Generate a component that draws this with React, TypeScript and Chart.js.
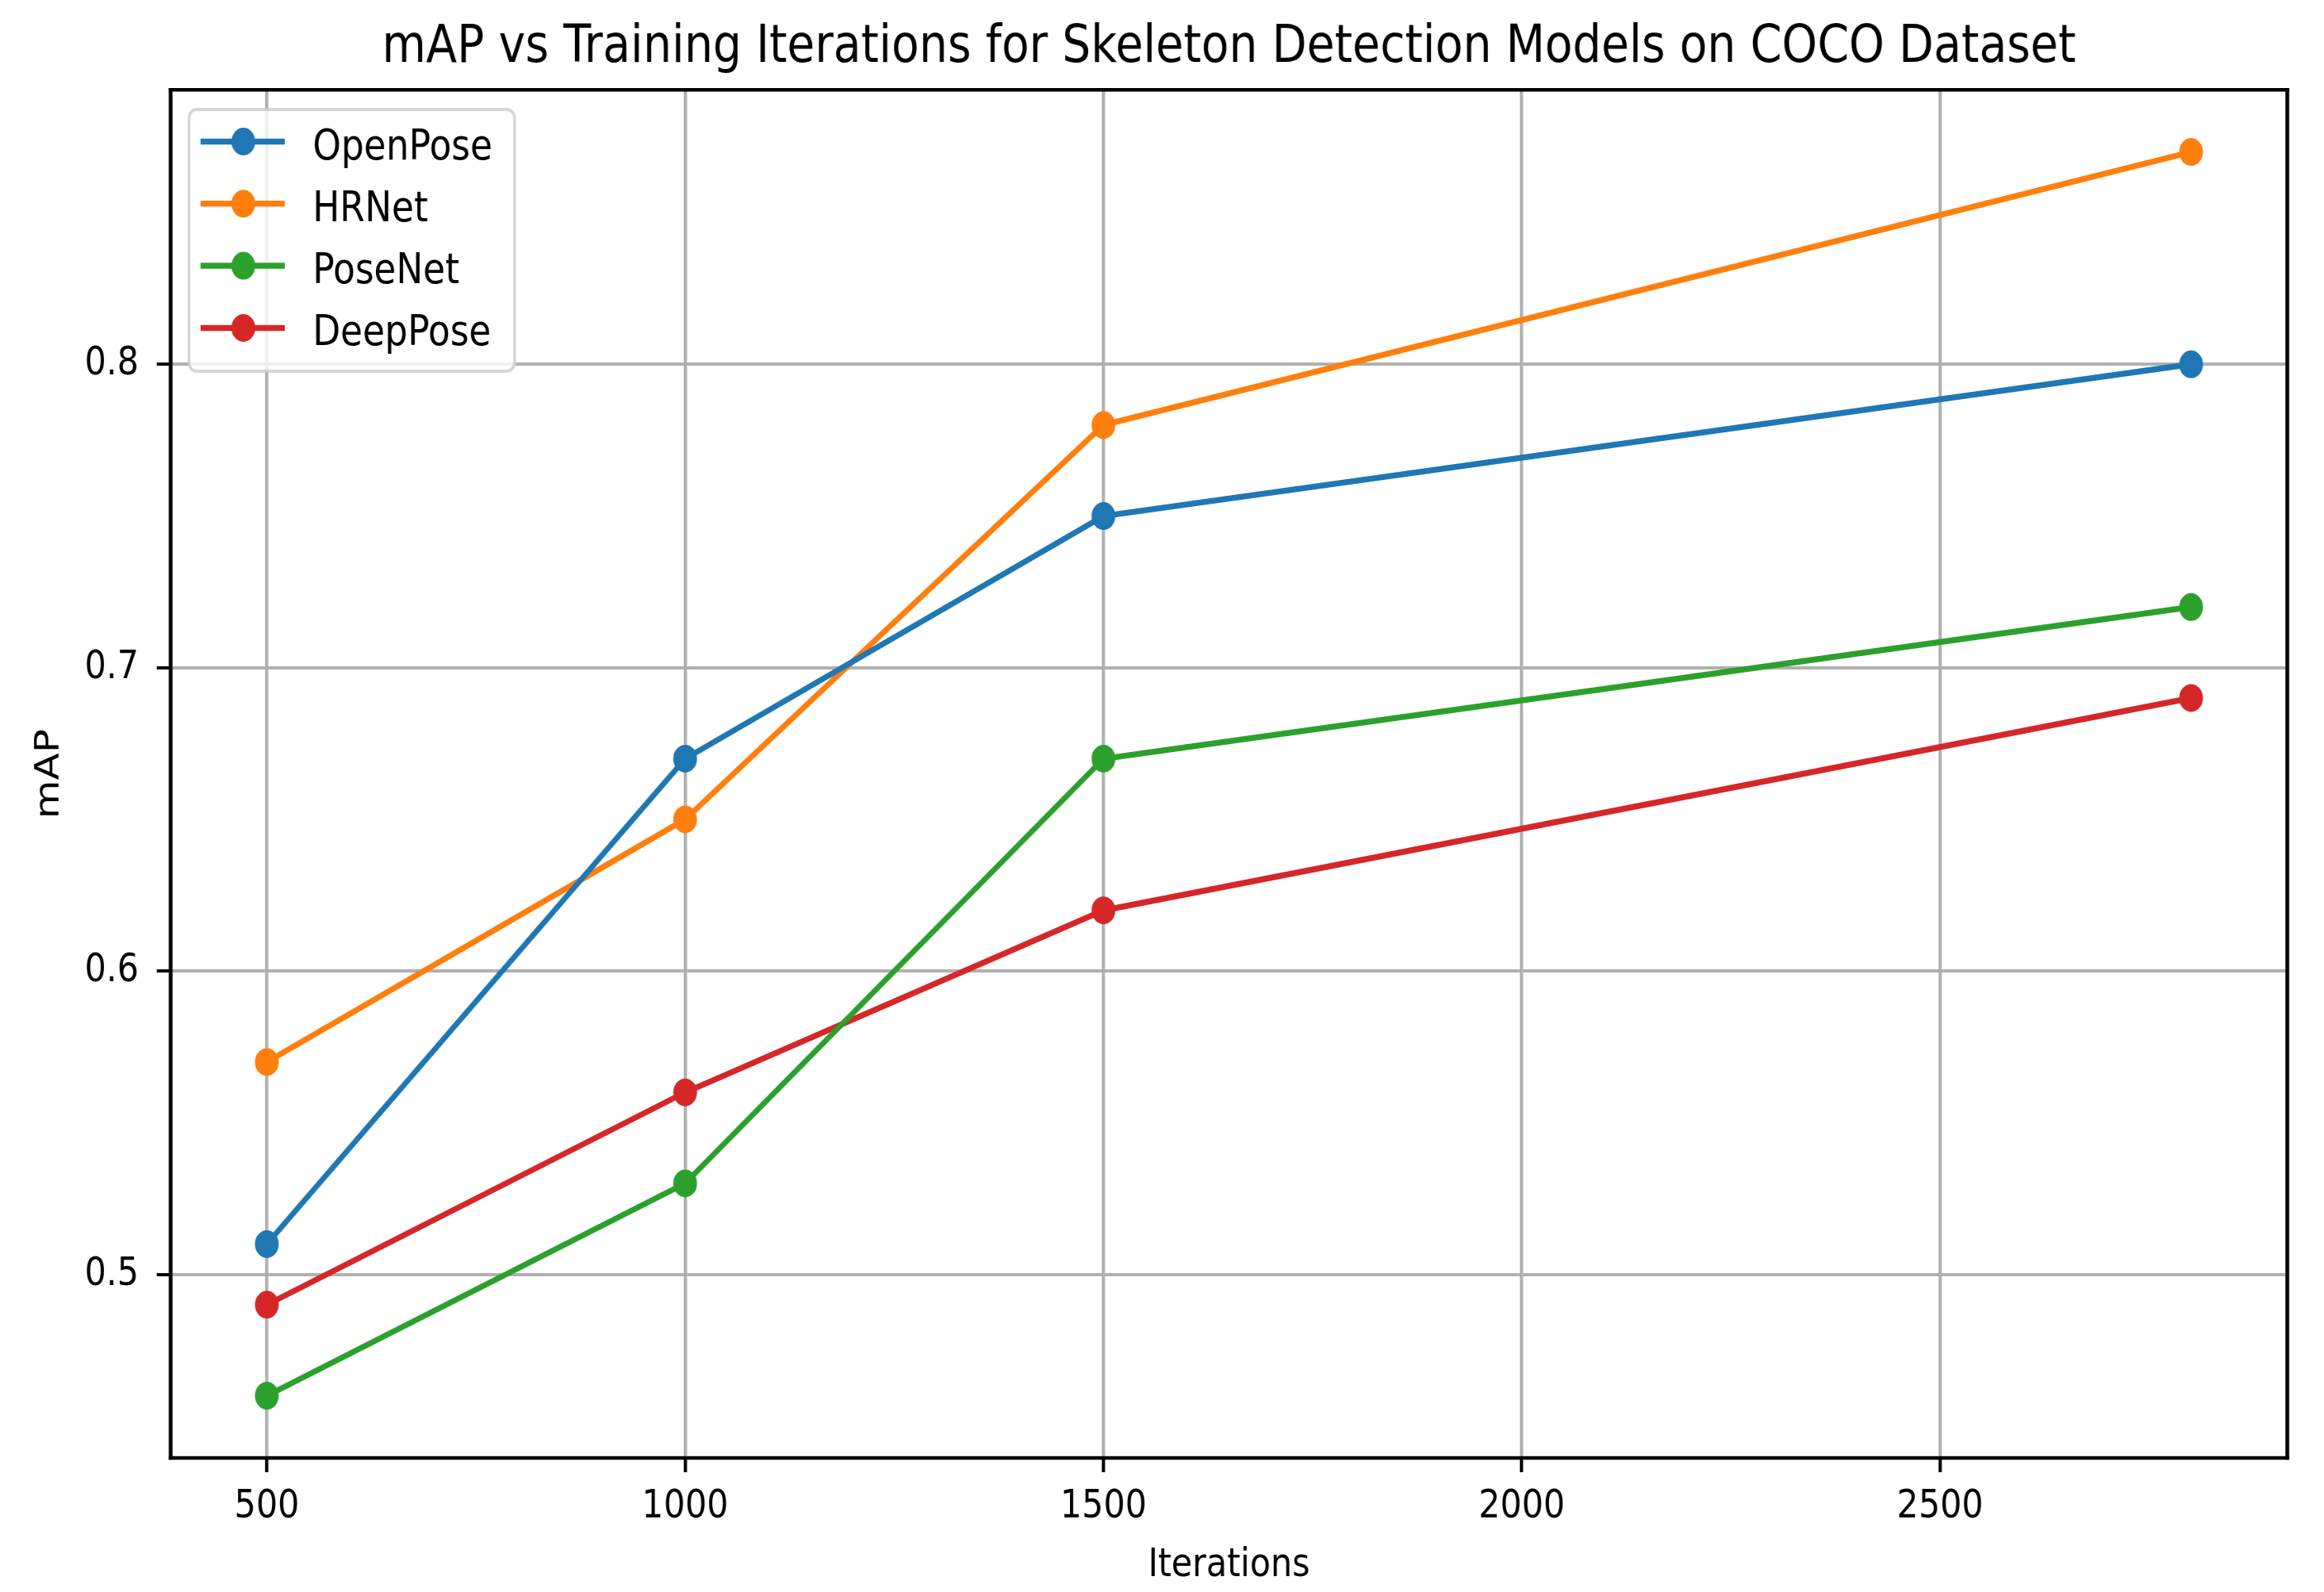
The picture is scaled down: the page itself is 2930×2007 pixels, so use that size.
import React, { useEffect, useRef } from 'react';
import { Chart, registerables } from 'chart.js';

Chart.register(...registerables);

// ---------- data ----------
const iterations = [500, 1000, 1500, 2800];
const seriesNames = ['OpenPose', 'HRNet', 'PoseNet', 'DeepPose'];
const openPose = [0.51, 0.67, 0.75, 0.8];
const hrNet = [0.57, 0.65, 0.78, 0.87];
const poseNet = [0.46, 0.53, 0.67, 0.72];
const deepPose = [0.49, 0.56, 0.62, 0.69];
const xTicks = [500, 1000, 1500, 2000, 2500];
const yTicks = [0.5, 0.6, 0.7, 0.8];
const chartTitle = 'mAP vs Training Iterations for Skeleton Detection Models on COCO Dataset';
const xTitle = 'Iterations';
const yTitle = 'mAP';

// ---------- style ----------
const colors = ['#1f77b4', '#ff7f0e', '#2ca02c', '#d62728'];
const FONT = "'DejaVu Sans', 'Liberation Sans', sans-serif";
const K = 0.857; // horizontal squeeze of the reference picture
const H = 2007;
const W = Math.round(2930 / K);

const frame = {
  id: 'mplFrame',
  afterDatasetsDraw(chart: any) {
    const { ctx } = chart;
    const { left, top, right, bottom } = chart.chartArea;
    ctx.save();
    ctx.strokeStyle = '#000';
    ctx.lineWidth = 4.5;
    ctx.beginPath();
    ctx.moveTo(left - 2.8, top);
    ctx.lineTo(right + 2.8, top);
    ctx.moveTo(left - 2.8, bottom);
    ctx.lineTo(right + 2.8, bottom);
    ctx.stroke();
    ctx.lineWidth = 5.5;
    ctx.beginPath();
    ctx.moveTo(left, top - 2.2);
    ctx.lineTo(left, bottom + 2.2);
    ctx.moveTo(right, top - 2.2);
    ctx.lineTo(right, bottom + 2.2);
    ctx.stroke();
    ctx.restore();
  },
};

const legend = {
  id: 'mplLegend',
  afterDraw(chart: any) {
    const { ctx } = chart;
    const x0 = 278, y0 = 138, x1 = 757, y1 = 468;
    ctx.save();
    ctx.beginPath();
    (ctx as any).roundRect(x0, y0, x1 - x0, y1 - y0, 11);
    ctx.fillStyle = 'rgba(255,255,255,0.8)';
    ctx.fill();
    ctx.strokeStyle = 'rgba(204,204,204,0.8)';
    ctx.lineWidth = 4;
    ctx.stroke();
    chart.data.datasets.forEach((ds: any, i: number) => {
      const cy = 178.5 + i * 78.3;
      ctx.strokeStyle = ds.borderColor;
      ctx.lineWidth = 7.5;
      ctx.beginPath();
      ctx.moveTo(295, cy);
      ctx.lineTo(419, cy);
      ctx.stroke();
      ctx.beginPath();
      ctx.arc(358, cy, 15, 0, Math.PI * 2);
      ctx.fillStyle = ds.backgroundColor;
      ctx.fill();
      ctx.lineWidth = 5;
      ctx.stroke();
      ctx.fillStyle = '#000';
      ctx.font = `53px ${FONT}`;
      ctx.textAlign = 'left';
      ctx.textBaseline = 'alphabetic';
      ctx.fillText(ds.label, 460, cy + 22);
    });
    ctx.restore();
  },
};

export default function App() {
  const ref = useRef<HTMLCanvasElement | null>(null);

  useEffect(() => {
    if (!ref.current) return;
    const series = [openPose, hrNet, poseNet, deepPose];
    const chart = new Chart(ref.current, {
      type: 'line',
      data: {
        datasets: series.map((vals, i) => ({
          label: seriesNames[i],
          data: iterations.map((x, j) => ({ x, y: vals[j] })),
          borderColor: colors[i],
          backgroundColor: colors[i],
          pointBackgroundColor: colors[i],
          pointBorderColor: colors[i],
          borderWidth: 7.5,
          pointRadius: 15,
          pointBorderWidth: 5,
          tension: 0,
          fill: false,
        })),
      },
      options: {
        animation: false,
        responsive: false,
        devicePixelRatio: 1,
        events: [],
        layout: { padding: { top: 0, left: 0, right: W - 3365, bottom: 0 } },
        plugins: {
          legend: { display: false },
          tooltip: { enabled: false },
          title: {
            display: true,
            text: chartTitle,
            fullSize: false,
            color: '#000',
            font: { family: FONT, size: 66.5, weight: 'normal', lineHeight: 1.2 },
            padding: { top: 21, bottom: 12.4 },
          },
        },
        scales: {
          x: {
            type: 'linear',
            min: 385,
            max: 2915,
            afterBuildTicks: (axis: any) => {
              axis.ticks = xTicks.map((v) => ({ value: v }));
            },
            afterFit: (axis: any) => {
              axis.height = H - 1838;
            },
            ticks: {
              color: '#000',
              font: { family: FONT, size: 50 },
              padding: 13.6,
              maxRotation: 0,
              autoSkip: false,
              callback: (v: any) => String(v),
            },
            grid: {
              color: '#b0b0b0',
              lineWidth: 4.7,
              tickLength: 18,
              tickColor: '#000',
              tickWidth: 4.7,
            },
            border: { display: false },
            title: {
              display: true,
              text: xTitle,
              color: '#000',
              font: { family: FONT, size: 50, lineHeight: 1.2 },
              padding: { top: 0, bottom: 3 },
            },
          },
          y: {
            type: 'linear',
            min: 0.4395,
            max: 0.8905,
            afterBuildTicks: (axis: any) => {
              axis.ticks = yTicks.map((v) => ({ value: v }));
            },
            afterFit: (axis: any) => {
              axis.width = 251;
            },
            ticks: {
              color: '#000',
              font: { family: FONT, size: 50 },
              padding: 26.6,
              callback: (v: any) => Number(v).toFixed(1),
            },
            grid: {
              color: '#b0b0b0',
              lineWidth: 4,
              tickLength: 20.4,
              tickColor: '#000',
              tickWidth: 4,
            },
            border: { display: false },
            title: {
              display: true,
              text: yTitle,
              color: '#000',
              font: { family: FONT, size: 50, lineHeight: 1.2 },
              padding: { top: 42.6, bottom: 0 },
            },
          },
        },
      },
      plugins: [frame, legend],
    });
    return () => chart.destroy();
  }, []);

  return (
    <div style={{ position: 'fixed', left: 0, top: 0, width: 2930, height: H, background: '#fff' }}>
      <canvas
        ref={ref}
        width={W}
        height={H}
        style={{ width: '2930px', height: `${H}px`, display: 'block' }}
      />
    </div>
  );
}
